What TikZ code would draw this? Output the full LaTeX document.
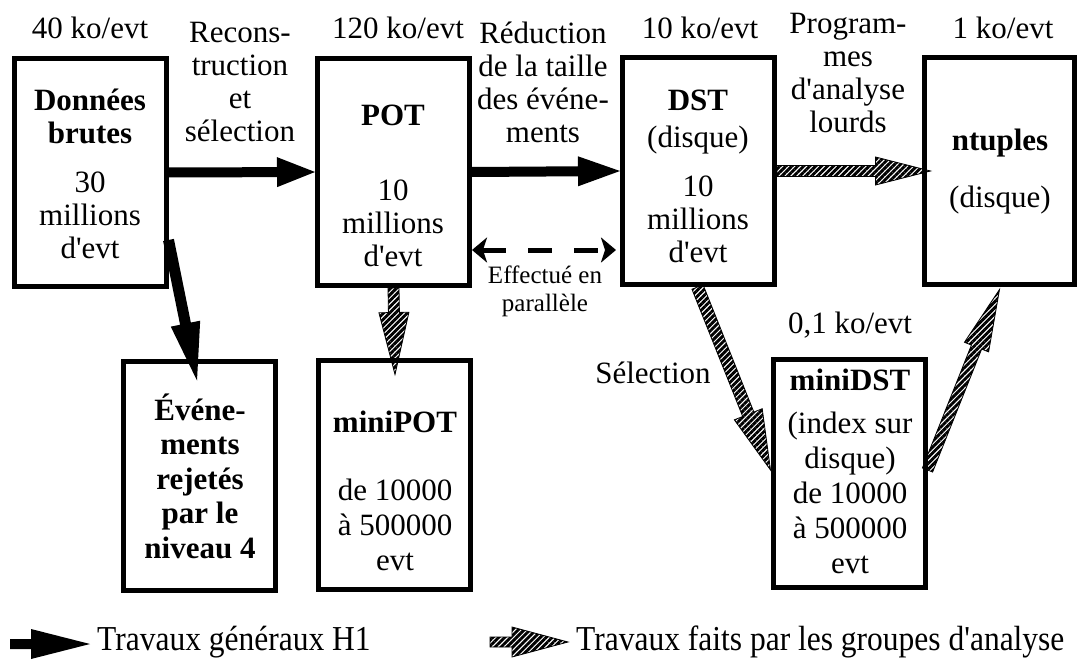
\documentclass[tikz,border=0pt]{standalone}
\usepackage{fontspec}
\setmainfont{Liberation Serif}[Ligatures=TeXOff]
\newfontfamily\legendfont[FakeStretch=0.9]{Liberation Serif}
\usetikzlibrary{calc,patterns.meta,arrows.meta}
\newcommand\fatarrow[6]{%
  \coordinate (fahb) at ($(#3)!#6!(#2)$);
  \path[#1] ($(#2)!#4!90:(#3)$) -- ($(fahb)!#4!90:(#3)$) -- ($(fahb)!#5!90:(#3)$) -- (#3)
    -- ($(fahb)!#5!-90:(#3)$) -- ($(fahb)!#4!-90:(#3)$) -- ($(#2)!#4!-90:(#3)$) -- cycle;}
\tikzset{
  box/.style={draw, line width=5pt, minimum width=152pt, minimum height=227pt, inner sep=0pt},
  solidarrow/.style={fill=black},
  hatcharrow/.style={pattern={Lines[angle=45,distance=4.2pt,line width=2.9pt]}, pattern color=black, draw=black, line width=0.8pt},
  txt/.style={font=\fontsize{31}{33}\selectfont, align=center, inner sep=0pt},
  btxt/.style={font=\fontsize{31}{34.5}\selectfont\bfseries, align=center, inner sep=0pt},
  smalltxt/.style={font=\fontsize{25}{28}\selectfont, align=center, inner sep=0pt},
  legtxt/.style={font=\legendfont\fontsize{35}{40}\selectfont, inner sep=0pt, anchor=west},
  dasharrow/.style={line width=5pt, dash pattern=on 24pt off 22pt, {Stealth[length=15pt,width=25pt,inset=4pt]}-{Stealth[length=15pt,width=25pt,inset=4pt]}},
}
\begin{document}
\begin{tikzpicture}[x=1pt,y=1pt]
\useasboundingbox (0,0) rectangle (1081,-661);
% boxes
\node[box] (raw) at (90,-172.5) {};
\node[box] (pot) at (393.5,-172) {};
\node[box] (dst) at (698.5,-171) {};
\node[box, minimum width=150pt] (ntu) at (999.5,-171) {};
\node[box, minimum height=229pt] (rej) at (199.5,-476) {};
\node[box, minimum height=229pt] (mpot) at (394.5,-475) {};
\node[box, minimum height=228pt] (mdst) at (849,-473.5) {};
% top labels
\node[txt] (l40) at (90,-28) {40 ko/evt};
\node[txt] (l120) at (398,-28) {120 ko/evt};
\node[txt] (l10) at (700,-28) {10 ko/evt};
\node[txt] (l1) at (1003,-28) {1 ko/evt};
\node[txt] (lrec) at (240,-82) {Recons-\\truction\\et\\sélection};
\node[txt] (lred) at (543,-82) {Réduction\\de la taille\\des événe-\\ments};
\node[txt] (lprog) at (848,-73) {Program-\\mes\\d'analyse\\lourds};
% box texts
\node[btxt, font=\fontsize{31}{33}\selectfont\bfseries] (rawt) at (90,-116) {Données\\brutes};
\node[txt] (rawn) at (90,-215) {30\\millions\\d'evt};
\node[btxt] (pott) at (393,-115) {POT};
\node[txt] (potn) at (393,-223) {10\\millions\\d'evt};
\node[btxt] (dstt) at (698,-100) {DST};
\node[txt] (dstd) at (698,-140) {(disque)};
\node[txt] (dstn) at (698,-219) {10\\millions\\d'evt};
\node[btxt] (ntut) at (1000,-143) {ntuples};
\node[txt] (ntud) at (1000,-200) {(disque)};
\node[btxt] (rejt) at (200,-476) {Événe-\\ments\\rejetés\\par le\\niveau 4};
\node[btxt] (mpott) at (395,-422) {miniPOT};
\node[txt, font=\fontsize{31}{35}\selectfont] (mpotn) at (395,-525) {de 10000\\à 500000\\evt};
\node[txt] (l01) at (850,-325) {0,1 ko/evt};
\node[btxt] (mdstt) at (850,-380) {miniDST};
\node[txt, font=\fontsize{31}{35}\selectfont] (mdstn) at (850,-493) {(index sur\\disque)\\de 10000\\à 500000\\evt};
\node[txt] (lsel) at (653,-373) {Sélection};
\node[smalltxt] (lpar) at (545,-291) {Effectué en\\parallèle};
% connector end points
\coordinate (a3s) at ([yshift=-67.5pt]raw.east);
\coordinate (a3t) at ([shift={(-2.5pt,-21.5pt)}]rej.north);
\coordinate (a4t) at ([shift={(0.5pt,-16.5pt)}]mpot.north);
\coordinate (a5t) at ([xshift=8.5pt]ntu.west);
\coordinate (a6s) at ([xshift=-1pt]dst.south);
\coordinate (a6t) at ([yshift=3.5pt]mdst.west);
\coordinate (a7s) at ([yshift=3.5pt]mdst.east);
\coordinate (a7t) at ([yshift=-2.5pt]ntu.south);
% solid arrows
\fatarrow{solidarrow}{raw.east}{pot.west}{5pt}{15pt}{38pt}
\fatarrow{solidarrow}{pot.east}{dst.west}{5pt}{15pt}{42pt}
\fatarrow{solidarrow}{a3s}{a3t}{5.5pt}{15pt}{58pt}
% hatched arrows
\fatarrow{hatcharrow}{pot.south}{a4t}{5.5pt}{15pt}{62pt}
\fatarrow{hatcharrow}{dst.east}{a5t}{5.5pt}{14pt}{55pt}
\fatarrow{hatcharrow}{a6s}{a6t}{6pt}{15pt}{60pt}
\fatarrow{hatcharrow}{a7s}{a7t}{5.5pt}{13pt}{62pt}
% dashed double arrow
\draw[dasharrow] ([yshift=-78pt]pot.east) -- ([shift={(-4pt,-79pt)}]dst.west);
% legend
\coordinate (lg1s) at (10,-644);
\coordinate (lg1t) at (90,-644);
\fatarrow{solidarrow}{lg1s}{lg1t}{5pt}{15pt}{59pt}
\node[legtxt] (lg1) at (97,-642) {Travaux généraux H1};
\coordinate (lg2s) at (490,-642);
\coordinate (lg2t) at (568,-642);
\fatarrow{hatcharrow}{lg2s}{lg2t}{5pt}{15pt}{56pt}
\node[legtxt] (lg2) at (576,-642) {Travaux faits par les groupes d'analyse};
\end{tikzpicture}
\end{document}
